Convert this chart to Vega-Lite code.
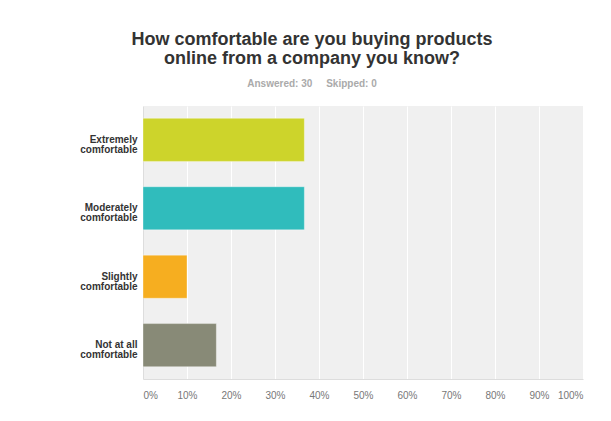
{
  "$schema": "https://vega.github.io/schema/vega-lite/v6.json",
  "width": 440,
  "height": 273,
  "autosize": "none",
  "padding": {"left": 143, "top": 106, "right": 28, "bottom": 42},
  "background": "white",
  "title": {
    "text": ["How comfortable are you buying products", "online from a company you know?"],
    "subtitle": "Answered: 30\u00a0\u00a0\u00a0\u00a0\u00a0Skipped: 0",
    "anchor": "middle",
    "frame": "group",
    "dx": -51,
    "font": "Liberation Sans",
    "fontSize": 18,
    "fontWeight": "bold",
    "color": "#333333",
    "lineHeight": 19,
    "subtitleFont": "Liberation Sans",
    "subtitleFontSize": 10,
    "subtitleFontWeight": "bold",
    "subtitleColor": "#aaaaaa",
    "subtitlePadding": 11,
    "offset": 17
  },
  "data": {
    "values": [
      {"answer": "Extremely comfortable", "pct": 0.3667},
      {"answer": "Moderately comfortable", "pct": 0.3667},
      {"answer": "Slightly comfortable", "pct": 0.10},
      {"answer": "Not at all comfortable", "pct": 0.1667}
    ]
  },
  "mark": {"type": "bar", "stroke": "#ffffff", "strokeOpacity": 0.35, "strokeWidth": 1},
  "encoding": {
    "y": {
      "field": "answer",
      "type": "nominal",
      "sort": null,
      "title": null,
      "scale": {"paddingInner": 0.37, "paddingOuter": 0.18},
      "axis": {
        "labelExpr": "datum.value == 'Not at all comfortable' ? ['Not at all', 'comfortable'] : split(datum.value, ' ')",
        "labelFont": "Liberation Sans",
        "labelFontSize": 10,
        "labelFontWeight": "bold",
        "labelColor": "#333333",
        "labelLineHeight": 10,
        "labelPadding": 6,
        "ticks": false,
        "domain": true,
        "domainColor": "#dddddd",
        "grid": false
      }
    },
    "x": {
      "field": "pct",
      "type": "quantitative",
      "title": null,
      "scale": {"domain": [0, 1], "nice": false},
      "axis": {
        "format": ".0%",
        "values": [0, 0.1, 0.2, 0.3, 0.4, 0.5, 0.6, 0.7, 0.8, 0.9, 1],
        "labelFlush": true,
        "labelFont": "Liberation Sans",
        "labelFontSize": 10,
        "labelColor": "#777777",
        "labelPadding": 11,
        "ticks": false,
        "domain": true,
        "domainColor": "#dddddd",
        "grid": true,
        "gridColor": "#ffffff",
        "gridWidth": 1
      }
    },
    "color": {
      "field": "answer",
      "type": "nominal",
      "legend": null,
      "scale": {
        "domain": ["Extremely comfortable", "Moderately comfortable", "Slightly comfortable", "Not at all comfortable"],
        "range": ["#cdd42b", "#30bcbc", "#f6ae20", "#888a77"]
      }
    }
  },
  "config": {
    "view": {"fill": "#f0f0f0", "stroke": null}
  }
}
